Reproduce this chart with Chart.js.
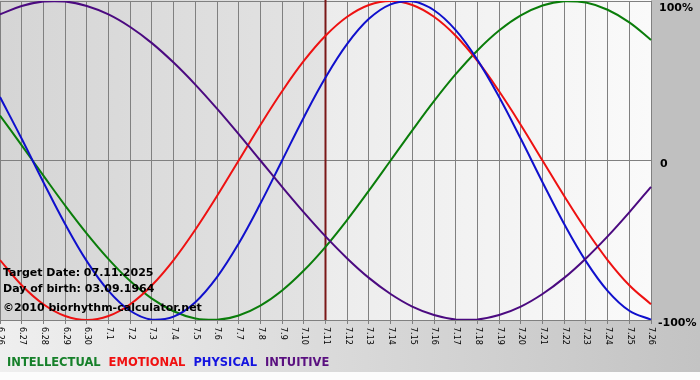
<!DOCTYPE html>
<html>
<head>
<meta charset="utf-8">
<script src="https://cdn.jsdelivr.net/npm/chart.js@4"></script>
<style>
html,body{margin:0;padding:0;background:#fff;}
#c{display:block;}
</style>
</head>
<body>
<canvas id="c" width="700" height="380"></canvas>
<script>
// ---- data ----
const dateLabels = ['6.26','6.27','6.28','6.29','6.30','7.1','7.2','7.3','7.4','7.5','7.6','7.7','7.8','7.9','7.10','7.11','7.12','7.13','7.14','7.15','7.16','7.17','7.18','7.19','7.20','7.21','7.22','7.23','7.24','7.25','7.26'];
const intellectual = [28.2, 9.5, -9.5, -28.2, -45.8, -61.8, -75.6, -86.6, -94.5, -99.0, -99.9, -97.2, -91.0, -81.5, -69.0, -54.1, -37.2, -18.9, 0, 18.9, 37.2, 54.1, 69.0, 81.5, 91.0, 97.2, 99.9, 99.0, 94.5, 86.6, 75.6];
const emotional = [-62.4, -78.2, -90.1, -97.5, -100, -97.5, -90.1, -78.2, -62.4, -43.4, -22.3, 0, 22.3, 43.4, 62.4, 78.2, 90.1, 97.5, 100, 97.5, 90.1, 78.2, 62.4, 43.4, 22.3, 0, -22.3, -43.4, -62.4, -78.2, -90.1];
const physical = [39.8, 13.6, -13.6, -39.8, -63.1, -81.7, -94.2, -99.8, -97.9, -88.8, -73.1, -52.0, -27.0, 0, 27.0, 52.0, 73.1, 88.8, 97.9, 99.8, 94.2, 81.7, 63.1, 39.8, 13.6, -13.6, -39.8, -63.1, -81.7, -94.2, -99.8];
const intuitive = [91.6, 96.9, 99.7, 99.7, 96.9, 91.6, 83.7, 73.6, 61.4, 47.6, 32.5, 16.5, 0, -16.5, -32.5, -47.6, -61.4, -73.6, -83.7, -91.6, -96.9, -99.7, -99.7, -96.9, -91.6, -83.7, -73.6, -61.4, -47.6, -32.5, -16.5];
const yTickValues = [100, 0, -100];
const yTickLabels = ['100%', '0', '-100%'];
const targetLabel = '7.11';
const infoLines = ['Target Date: 07.11.2025', 'Day of birth: 03.09.1964', '\u00A92010 biorhythm-calculator.net'];
const seriesNames = ['INTELLECTUAL', 'EMOTIONAL', 'PHYSICAL', 'INTUITIVE'];

// ---- styles ----
const lineColors = ['#0a7d0a', '#ee1111', '#1010cc', '#4b0a80'];
const legendColors = ['#16802a', '#f01010', '#1414e0', '#5a1080'];
const FONT = "'DejaVu Sans', Verdana, sans-serif";

const decorPlugin = {
  id: 'decor',
  beforeDraw(chart) {
    const {ctx, chartArea: a, width, height} = chart;
    const tx = chart.scales.x.getPixelForValue(dateLabels.indexOf(targetLabel));
    ctx.save();
    let g = ctx.createLinearGradient(0, 0, width, 0);
    g.addColorStop(0, '#efefef'); g.addColorStop(1, '#c3c3c3');
    ctx.fillStyle = g;
    ctx.fillRect(0, a.bottom, width, height - a.bottom);
    ctx.fillStyle = '#fcfcfc';
    ctx.fillRect(0, 372, width, height - 372);
    ctx.fillStyle = '#c0c0c0';
    ctx.fillRect(a.right, 0, width - a.right, a.bottom);
    g = ctx.createLinearGradient(a.left, 0, tx, 0);
    g.addColorStop(0, '#d5d5d5'); g.addColorStop(1, '#e3e3e3');
    ctx.fillStyle = g;
    ctx.fillRect(a.left, 0, tx - a.left, a.bottom);
    g = ctx.createLinearGradient(tx, 0, a.right, 0);
    g.addColorStop(0, '#ececec'); g.addColorStop(1, '#fafafa');
    ctx.fillStyle = g;
    ctx.fillRect(tx, 0, a.right - tx, a.bottom);
    ctx.restore();
  },
  beforeDatasetsDraw(chart) {
    const {ctx, chartArea: a} = chart;
    const tx = chart.scales.x.getPixelForValue(dateLabels.indexOf(targetLabel));
    ctx.save();
    ctx.strokeStyle = '#7a1818';
    ctx.lineWidth = 2;
    ctx.beginPath();
    ctx.moveTo(tx, 0);
    ctx.lineTo(tx, a.bottom);
    ctx.stroke();
    ctx.restore();
  },
  afterDatasetsDraw(chart) {
    const {ctx} = chart;
    ctx.save();
    ctx.fillStyle = '#000';
    ctx.font = 'bold 11px ' + FONT;
    ctx.textAlign = 'left';
    ctx.textBaseline = 'alphabetic';
    const ys = [276, 292, 311];
    infoLines.forEach((t, i) => ctx.fillText(t, 3, ys[i]));
    ctx.restore();
  },
  afterDraw(chart) {
    const {ctx, chartArea: a} = chart;
    const xs = chart.scales.x, yScale = chart.scales.y;
    ctx.save();
    // x labels rotated clockwise
    ctx.fillStyle = '#000';
    ctx.font = '8px ' + FONT;
    ctx.textAlign = 'left';
    ctx.textBaseline = 'middle';
    dateLabels.forEach((lab, i) => {
      const x = xs.getPixelForValue(i);
      ctx.save();
      ctx.translate(x + 0.5, a.bottom + 7);
      ctx.rotate(Math.PI / 2);
      ctx.fillText(lab, 0, 0);
      ctx.restore();
    });
    // y labels on right
    ctx.font = 'bold 11px ' + FONT;
    ctx.textBaseline = 'alphabetic';
    yTickValues.forEach((v, i) => {
      const y = yScale.getPixelForValue(v);
      const lab = yTickLabels[i];
      const x = lab.startsWith('-') ? a.right + 7 : (lab === '0' ? a.right + 9 : a.right + 8);
      ctx.fillText(lab, x, Math.max(y + 6, 11));
    });
    // legend
    ctx.font = 'bold 11.5px ' + FONT;
    let lx = 7;
    seriesNames.forEach((n, i) => {
      ctx.fillStyle = legendColors[i];
      ctx.fillText(n, lx, 366);
      lx += ctx.measureText(n).width + 8;
    });
    ctx.restore();
  }
};

const seriesData = [intellectual, emotional, physical, intuitive];
new Chart(document.getElementById('c'), {
  type: 'line',
  data: {
    labels: dateLabels,
    datasets: seriesNames.map((n, i) => ({
      label: n,
      data: seriesData[i],
      borderColor: lineColors[i],
      backgroundColor: lineColors[i],
      borderWidth: 2,
      pointRadius: 0,
      tension: 0.4,
      fill: false,
      order: 3 - i
    }))
  },
  options: {
    responsive: false,
    animation: false,
    devicePixelRatio: 1,
    layout: {padding: {top: 1, left: 0, right: 0, bottom: 0}},
    plugins: {legend: {display: false}, tooltip: {enabled: false}},
    scales: {
      x: {
        type: 'category',
        offset: false,
        grid: {color: '#808080', lineWidth: 1, drawTicks: true, tickLength: 4, tickColor: '#808080'},
        border: {color: '#808080'},
        ticks: {display: false, autoSkip: false},
        afterFit(s) { s.height = 60; }
      },
      y: {
        position: 'right',
        min: -100, max: 100,
        ticks: {display: false, stepSize: 100},
        grid: {color: '#808080', drawTicks: false},
        border: {display: false},
        afterFit(s) { s.width = 49; }
      }
    }
  },
  plugins: [decorPlugin]
});
</script>
</body>
</html>
